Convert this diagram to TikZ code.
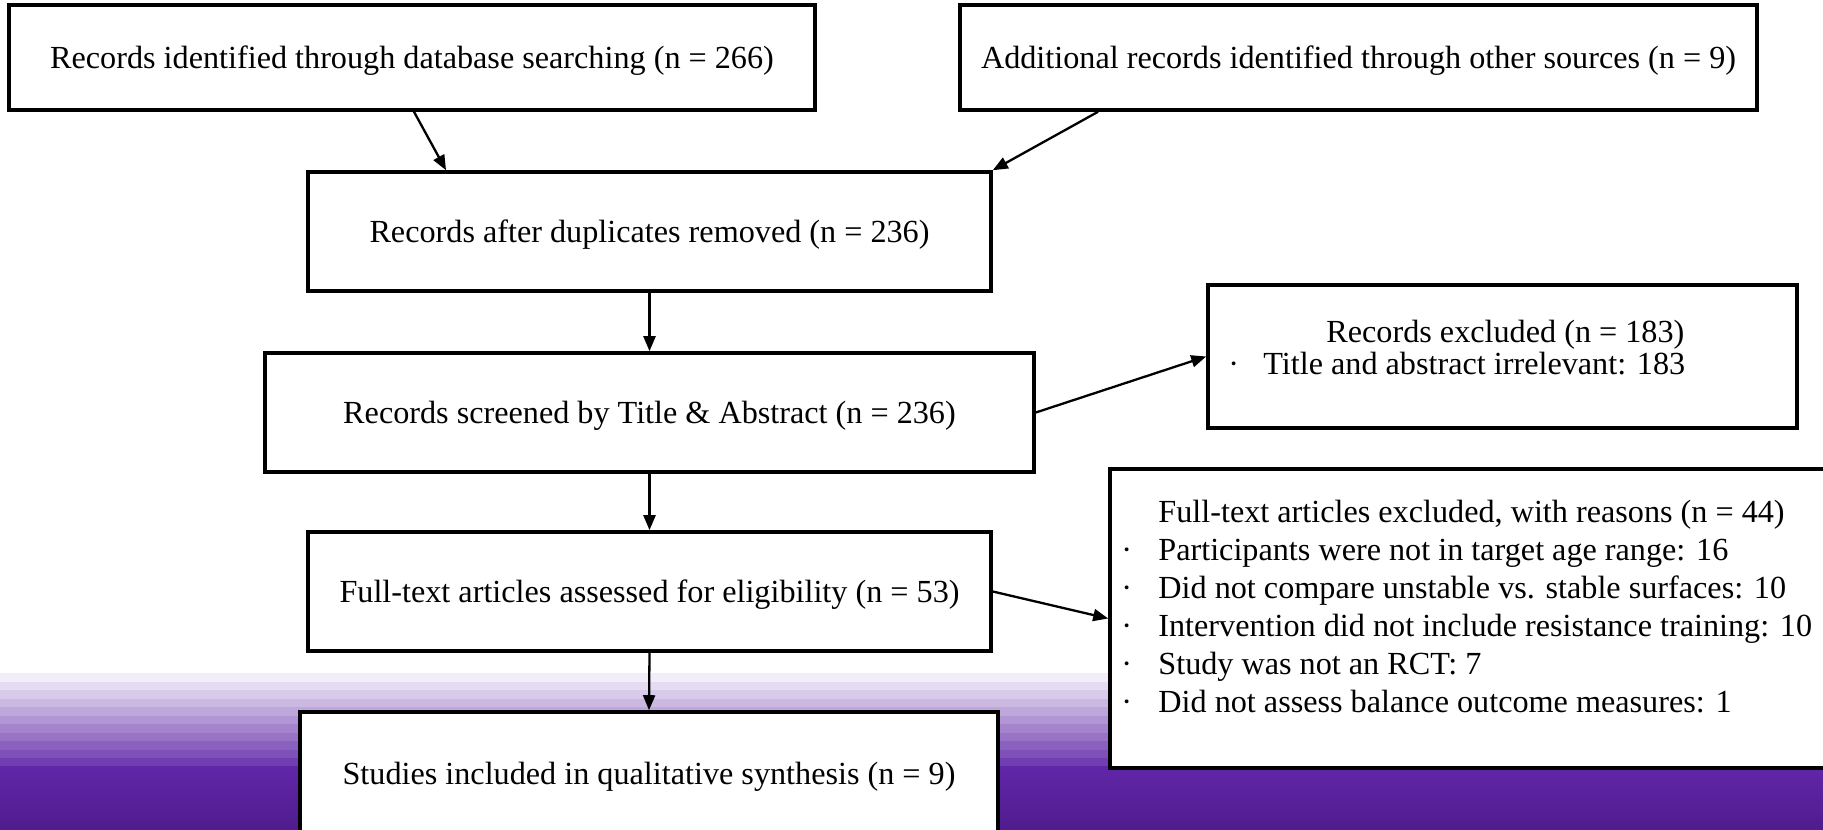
\documentclass[tikz,border=0pt]{standalone}
\usepackage{fontspec}
\setmainfont{Liberation Serif}
\usetikzlibrary{arrows.meta}
\definecolor{purp}{RGB}{94,36,166}
\definecolor{purptop}{RGB}{97,38,168}
\definecolor{purpbot}{RGB}{80,28,142}
\newcommand{\mainfs}{\fontsize{16.1pt}{19pt}\selectfont}
\newcommand{\smallfs}{\fontsize{16.1pt}{16pt}\selectfont}
\begin{document}
\begin{tikzpicture}[x=0.5pt,y=-0.5pt,
  box/.style={draw, line width=1.8pt, fill=white, inner sep=0pt, text depth=0pt, font=\mainfs},
  arr/.style={line width=1.15pt, -{Triangle[length=7.5pt,width=6pt]}},
  txt/.style={anchor=base west, inner sep=0pt}]
\clip (0,0) rectangle (1823,829);
\fill[white] (0,0) rectangle (1823,829);
% background gradient stripes
\foreach \i in {1,...,11}{
  \pgfmathtruncatemacro{\p}{8*\i}
  \fill[purp!\p!white] (0,{673+(\i-1)*8.5}) rectangle (1823,{673+\i*8.5+0.4});
}
\shade[top color=purptop, bottom color=purpbot] (0,766.5) rectangle (1823,829);
% boxes
\node[box, minimum width=403pt, minimum height=52.5pt] (b1) at (412,57.5) {Records identified through database searching (n = 266)};
\node[box, minimum width=398.5pt, minimum height=52.5pt] (b2) at (1358.5,57.5) {Additional records identified through other sources (n = 9)};
\node[box, minimum width=341.5pt, minimum height=59.5pt] (b3) at (649.5,231.5) {Records after duplicates removed (n = 236)};
\node[box, minimum width=384.5pt, minimum height=59.5pt] (b4) at (649.5,412.5) {Records screened by Title \& Abstract (n = 236)};
\node[box, minimum width=294.5pt, minimum height=71.5pt] (b5) at (1502.5,356.5) {};
\node[box, minimum width=341.5pt, minimum height=59.5pt] (b6) at (649.5,591.5) {Full-text articles assessed for eligibility (n = 53)};
\node[box, minimum width=360pt, minimum height=149.5pt] (b7) at (1470,618.5) {};
\node[box, minimum width=349pt, minimum height=61.5pt] (b8) at (649,773.5) {Studies included in qualitative synthesis (n = 9)};
% multi-line texts
\node[txt, font=\smallfs] (b5t) at (1228,342) {\begin{tabular}[t]{@{}p{17.5pt}@{}l@{}}
 & \hspace{31.5pt}Records excluded (n = 183)\\
 · & Title and abstract irrelevant: 183
\end{tabular}};
\node[txt, font=\mainfs] (b7t) at (1121,522) {\begin{tabular}[t]{@{}p{18.5pt}@{}l@{}}
 & Full-text articles excluded, with reasons (n = 44)\\
 · & Participants were not in target age range: 16\\
 · & Did not compare unstable vs. stable surfaces: 10\\
 · & Intervention did not include resistance training: 10\\
 · & Study was not an RCT: 7\\
 · & Did not assess balance outcome measures: 1
\end{tabular}};
% connectors
\draw[arr] ([xshift=1pt]b1.south) -- ([xshift=-101.75pt]b3.north);
\draw[arr] ([xshift=-130.25pt]b2.south) -- (b3.north east);
\draw[arr] (b3.south) -- (b4.north);
\draw[arr] (b4.south) -- (b6.north);
\draw[arr] (b6.south) -- (b8.north);
\draw[arr] (b4.east) -- (b5.west);
\draw[arr] (b6.east) -- (b7.west);
\end{tikzpicture}
\end{document}
